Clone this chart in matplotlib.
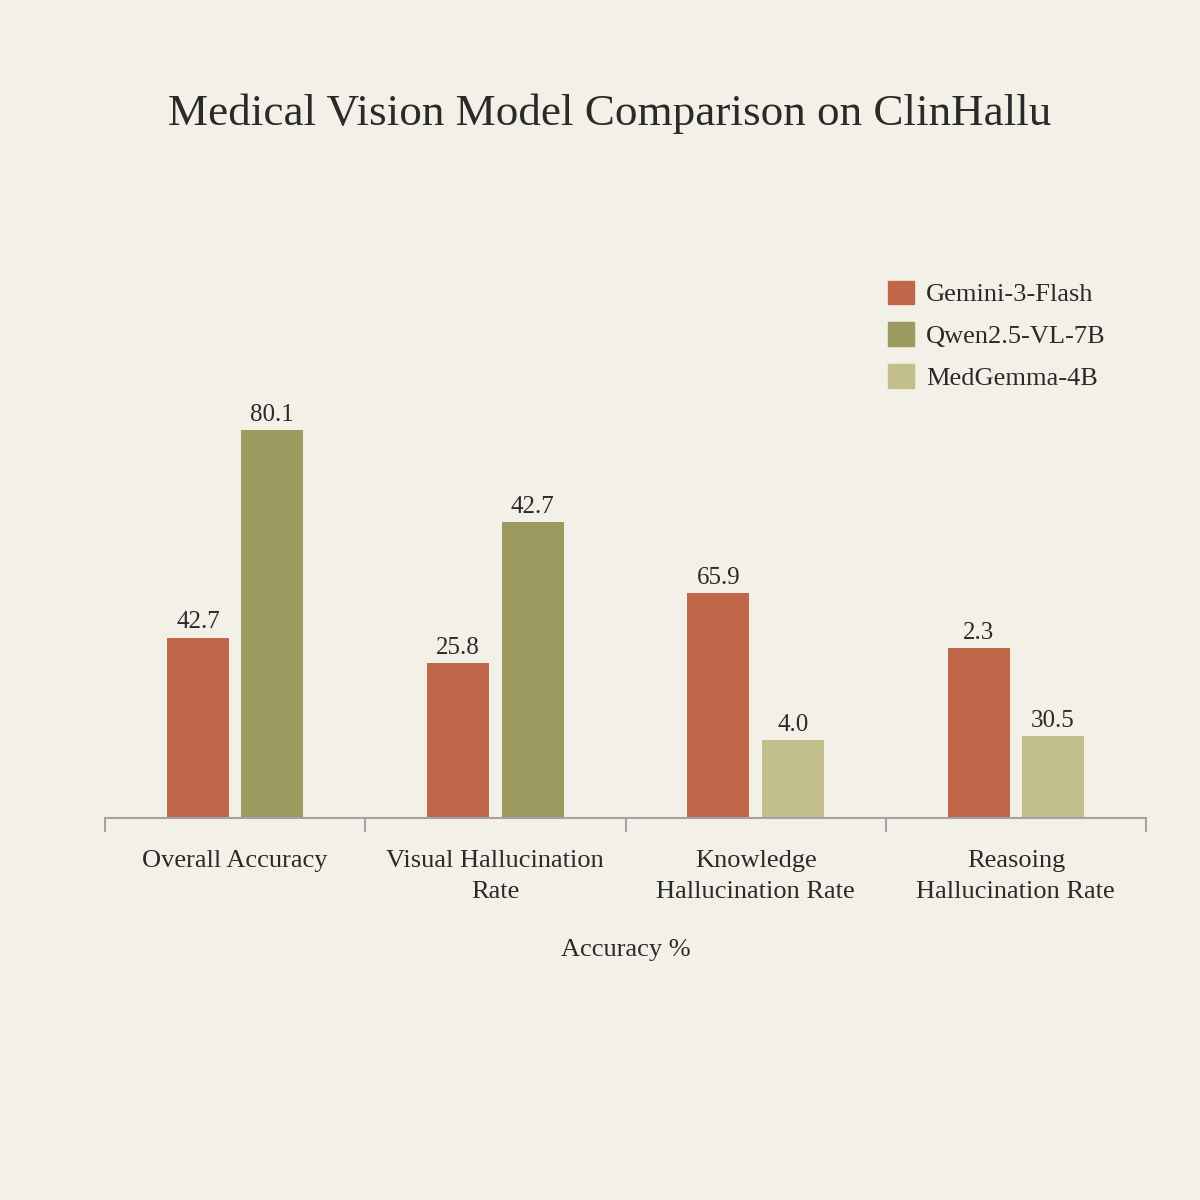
import matplotlib.pyplot as plt
import numpy as np

categories = ["Overall Accuracy", "Visual Hallucination\nRate",
              "Knowledge\nHallucination Rate", "Reasoing\nHallucination Rate"]

# bar heights as drawn in the picture (percent scale)
gemini_heights = [37.2, 32.0, 46.4, 35.1]
other_heights = [80.1, 61.1, 16.1, 16.9]
# the numbers printed above the bars
gemini_labels = ["42.7", "25.8", "65.9", "2.3"]
other_labels = ["80.1", "42.7", "4.0", "30.5"]
# second bar of each group: Qwen for the first two, MedGemma for the rest
other_model = ["Qwen2.5-VL-7B", "Qwen2.5-VL-7B", "MedGemma-4B", "MedGemma-4B"]

colors = {"Gemini-3-Flash": "#c0674a",
          "Qwen2.5-VL-7B": "#9c9a5f",
          "MedGemma-4B": "#c2bf8b"}

bg = "#f3f0e7"
txt = "#2a2a2a"
plt.rcParams['font.family'] = ['Liberation Serif', 'DejaVu Serif']

fig = plt.figure(figsize=(12, 12), dpi=100, facecolor=bg)
ax = fig.add_axes([0.0875, 0.3183, 0.8675, 0.4038])
ax.set_facecolor(bg)

x = np.arange(len(categories))
w = 0.238
off = 0.143

ax.bar(x - off, gemini_heights, w, color=colors["Gemini-3-Flash"])
ax.bar(x + off, other_heights, w, color=[colors[m] for m in other_model])

for xi, h, lab in zip(x - off, gemini_heights, gemini_labels):
    ax.text(xi, h + 0.9, lab, ha='center', va='bottom', fontsize=18, color=txt)
for xi, h, lab in zip(x + off, other_heights, other_labels):
    ax.text(xi, h + 0.9, lab, ha='center', va='bottom', fontsize=18, color=txt)

ax.set_xlim(-0.5, 3.5)
ax.set_ylim(0, 100)
for s in ['top', 'right', 'left']:
    ax.spines[s].set_visible(False)
ax.spines['bottom'].set_color('#a3a3a3')
ax.spines['bottom'].set_linewidth(1.5)
ax.set_yticks([])

ax.set_xticks(x)
ax.set_xticklabels(categories, fontsize=19, color=txt, linespacing=1.55)
ax.tick_params(axis='x', which='major', length=0, pad=23)
ax.set_xticks(np.arange(-0.5, 4, 1), minor=True)
ax.tick_params(axis='x', which='minor', length=10, width=1.5, color='#a3a3a3')
ax.set_xlabel("Accuracy %", fontsize=19, color=txt, labelpad=26)

fig.text(0.508, 0.905, "Medical Vision Model Comparison on ClinHallu",
         ha='center', va='center', fontsize=32.5, color=txt)

handles = [plt.Rectangle((0, 0), 1, 1, color=c) for c in colors.values()]
fig.legend(handles, list(colors.keys()), loc='upper left',
           bbox_to_anchor=(0.72, 0.786), frameon=False, fontsize=19,
           handlelength=1.0, handleheight=1.0, handletextpad=0.45,
           labelspacing=0.6, labelcolor=txt)

fig.savefig("out.png", dpi=100, facecolor=bg)
